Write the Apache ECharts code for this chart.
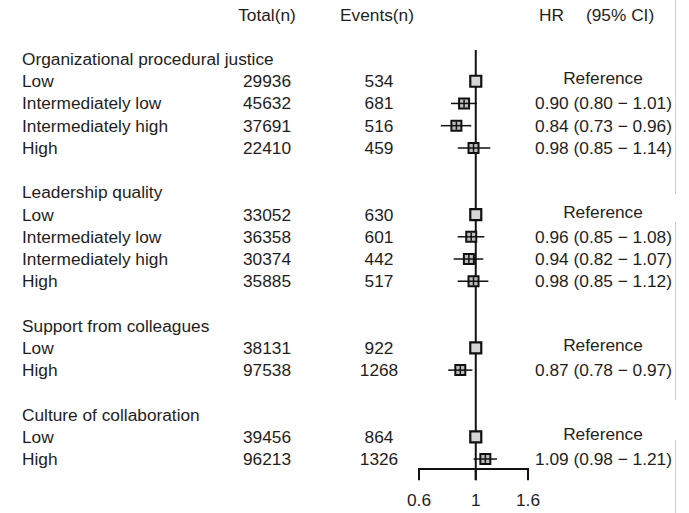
<!DOCTYPE html>
<html><head><meta charset="utf-8">
<script src="https://cdn.jsdelivr.net/npm/echarts@6/dist/echarts.min.js"></script>
<style>html,body{margin:0;padding:0;background:#fff}#c{width:689px;height:513px}</style>
</head><body><div id="c"></div>
<script>
// ---- data ----
const groups = ['Organizational procedural justice', 'Leadership quality', 'Support from colleagues', 'Culture of collaboration'];
const categories = ['Low', 'Intermediately low', 'Intermediately high', 'High',
                    'Low', 'Intermediately low', 'Intermediately high', 'High',
                    'Low', 'High',
                    'Low', 'High'];
const groupOfRow = [0, 0, 0, 0, 1, 1, 1, 1, 2, 2, 3, 3];
const totals = [29936, 45632, 37691, 22410, 33052, 36358, 30374, 35885, 38131, 97538, 39456, 96213];
const events = [534, 681, 516, 459, 630, 601, 442, 517, 922, 1268, 864, 1326];
const hr     = [1, 0.90, 0.84, 0.98, 1, 0.96, 0.94, 0.98, 1, 0.87, 1, 1.09];
const ciLow  = [null, 0.80, 0.73, 0.85, null, 0.85, 0.82, 0.85, null, 0.78, null, 0.98];
const ciHigh = [null, 1.01, 0.96, 1.14, null, 1.08, 1.07, 1.12, null, 0.97, null, 1.21];
const xTicks = [0.6, 1, 1.6];
const headers = ['Total(n)', 'Events(n)', 'HR', '(95% CI)'];
const refLabel = 'Reference';

// ---- layout rows ----
const groupHeaderRow = [];
const dataRow = [];
let r = 0;
groups.forEach((g, gi) => {
  groupHeaderRow.push(r); r++;
  groupOfRow.forEach((gg, i) => { if (gg === gi) { dataRow[i] = r; r++; } });
  r++; // blank
});

const FONT = '17.3px "Liberation Sans", Arial, sans-serif';
const TXT = '#1e1e1e';
function t(text, x, y, align) {
  return { type: 'text', x: x, y: y, style: { text: text, fill: TXT, font: FONT, textAlign: align, textVerticalAlign: 'middle' } };
}
const fmt = v => v.toFixed(2);

const textData = categories.map((c, i) => [1, dataRow[i], i]);
const markData = hr.map((h, i) => [h, dataRow[i], ciLow[i] == null ? h : ciLow[i], ciHigh[i] == null ? h : ciHigh[i], ciLow[i] == null ? 1 : 0]);

const chart = echarts.init(document.getElementById('c'), null, { renderer: 'svg' });
chart.setOption({
  animation: false,
  backgroundColor: '#fff',
  grid: { left: 419, width: 109, top: 14.56, height: 488.9 },
  xAxis: { type: 'log', min: 0.6, max: 1.6, show: false },
  yAxis: { type: 'value', inverse: true, min: -2, max: 20, show: false },
  graphic: [
    { type: 'line', shape: { x1: 675.5, y1: 0, x2: 675.5, y2: 194 }, style: { stroke: '#cfcfcf', lineWidth: 1 } },
    { type: 'line', shape: { x1: 675.5, y1: 222, x2: 675.5, y2: 400 }, style: { stroke: '#cfcfcf', lineWidth: 1 } },
    { type: 'line', shape: { x1: 675.5, y1: 440, x2: 675.5, y2: 513 }, style: { stroke: '#cfcfcf', lineWidth: 1 } }
  ],
  series: [
    { // axis + reference line
      type: 'custom', clip: false, silent: true,
      data: [[1, 0]],
      renderItem: function (params, api) {
        const ch = [];
        const top = api.coord([1, -0.4]);
        const bot = api.coord([1, 18.95]);
        ch.push({ type: 'line', shape: { x1: top[0], y1: top[1], x2: bot[0], y2: bot[1] }, style: { stroke: '#111', lineWidth: 2 } });
        const a = api.coord([xTicks[0], 18.45]);
        const b = api.coord([xTicks[xTicks.length - 1], 18.45]);
        ch.push({ type: 'line', shape: { x1: a[0] - 1, y1: a[1], x2: b[0] + 1, y2: b[1] }, style: { stroke: '#111', lineWidth: 2 } });
        xTicks.forEach(v => {
          const p = api.coord([v, 18.45]);
          const q = api.coord([v, 18.95]);
          ch.push({ type: 'line', shape: { x1: p[0], y1: p[1], x2: q[0], y2: q[1] }, style: { stroke: '#111', lineWidth: 2 } });
          const l = api.coord([v, 19.85]);
          ch.push(t(String(v), l[0], l[1], 'center'));
        });
        // headers
        const hy = api.coord([1, -2])[1];
        ch.push(t(headers[0], 267, hy, 'center'));
        ch.push(t(headers[1], 377, hy, 'center'));
        ch.push(t(headers[2], 539, hy, 'left'));
        ch.push(t(headers[3], 586, hy, 'left'));
        groups.forEach((g, gi) => {
          const y = api.coord([1, groupHeaderRow[gi]])[1];
          ch.push(t(g, 22, y, 'left'));
        });
        return { type: 'group', children: ch };
      }
    },
    { // row texts
      type: 'custom', clip: false, silent: true,
      data: textData,
      renderItem: function (params, api) {
        const i = api.value(2);
        const y = api.coord([1, api.value(1)])[1];
        const ch = [
          t(categories[i], 22, y, 'left'),
          t(String(totals[i]), 267, y, 'center'),
          t(String(events[i]), 379, y, 'center')
        ];
        if (ciLow[i] == null) ch.push(t(refLabel, 603, y - 3, 'center'));
        else ch.push(t(fmt(hr[i]) + ' (' + fmt(ciLow[i]) + ' \u2212 ' + fmt(ciHigh[i]) + ')', 672, y, 'right'));
        return { type: 'group', children: ch };
      }
    },
    { // forest marks
      type: 'custom', clip: false, silent: true,
      data: markData,
      renderItem: function (params, api) {
        const row = api.value(1);
        const p = api.coord([api.value(0), row]);
        const ref = api.value(4);
        const ch = [];
        if (ref) {
          const s = 11;
          ch.push({ type: 'rect', shape: { x: p[0] - s / 2, y: p[1] - s / 2, width: s, height: s }, style: { fill: '#d6d6d6', stroke: '#111', lineWidth: 2.2 } });
        } else {
          const s = 10;
          const a = api.coord([api.value(2), row]);
          const b = api.coord([api.value(3), row]);
          ch.push({ type: 'rect', shape: { x: p[0] - s / 2, y: p[1] - s / 2, width: s, height: s }, style: { fill: '#bdbdbd', stroke: '#111', lineWidth: 2 } });
          ch.push({ type: 'line', shape: { x1: a[0], y1: p[1], x2: b[0], y2: p[1] }, style: { stroke: '#111', lineWidth: 1.5 } });
          ch.push({ type: 'line', shape: { x1: p[0], y1: p[1] - 4, x2: p[0], y2: p[1] + 4 }, style: { stroke: '#111', lineWidth: 1.5 } });
        }
        return { type: 'group', children: ch };
      }
    }
  ]
});
</script></body></html>
